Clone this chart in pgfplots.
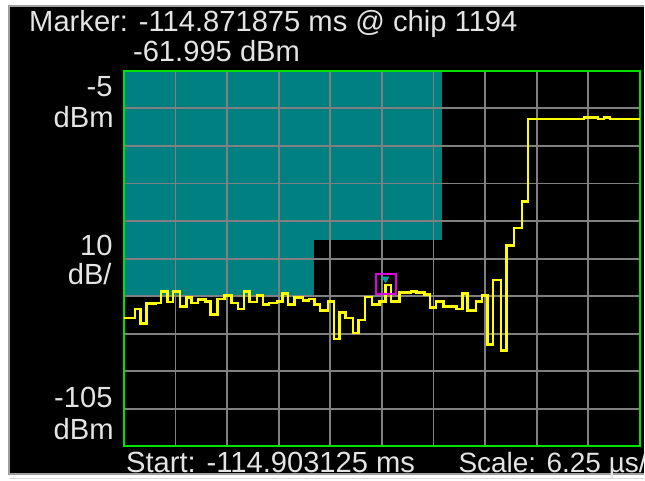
\documentclass[border=0pt]{standalone}
\usepackage{fontspec}
\setmainfont{Liberation Sans}
\usepackage{pgfplots}
\pgfplotsset{compat=1.18}
\definecolor{maskteal}{RGB}{0,128,128}
\definecolor{gridgray}{RGB}{128,128,128}
\definecolor{bordergreen}{RGB}{0,225,0}
\definecolor{traceyellow}{RGB}{255,255,0}
\definecolor{txt}{RGB}{228,228,228}
\definecolor{mkmag}{RGB}{225,0,225}
\definecolor{mkcyan}{RGB}{0,160,160}
\begin{document}
\begin{tikzpicture}
\begin{scope}[x=0.75pt,y=-0.75pt]
\useasboundingbox (0,0) rectangle (645,481);
\end{scope}
\begin{axis}[
  at={(93pt,-335.25pt)}, anchor=south west,
  scale only axis, width=387.75pt, height=282pt,
  xmin=0, xmax=10, ymin=-105, ymax=-5,
  xtick={0,1,...,10}, ytick={-105,-95,...,-5},
  xticklabels={}, yticklabels={}, major tick length=0pt,
  grid=major, grid style={gridgray, line width=1.4pt},
  axis line style={bordergreen, line width=1.5pt},
  set layers, clip=false,
]
\begin{pgfonlayer}{axis background}
\fill[white] (rel axis cs:-0.23985,1.18883) rectangle (rel axis cs:1.00774,-0.09043);
\fill[black] (rel axis cs:-0.22244,1.17287) rectangle (rel axis cs:1.00774,-0.07447);
\draw[gray!75, line width=1.5pt] (rel axis cs:1.00774,1.17287) -- (rel axis cs:-0.22244,1.17287)
  -- (rel axis cs:-0.22244,-0.07447) -- (rel axis cs:1.00774,-0.07447);
\draw[gray!30, line width=1pt] (rel axis cs:-0.22244,-0.0851) -- (rel axis cs:1.00774,-0.0851);
\end{pgfonlayer}
\addplot[fill=maskteal, draw=none, on layer=axis background] coordinates {
 (0,-5) (0,-65) (3.68,-65) (3.68,-50) (6.16,-50) (6.16,-5) (0,-5)};
\addplot[const plot, traceyellow, line width=1.9pt] coordinates {
(0,-70.8) (0.213,-68.4) (0.323,-72.3) (0.439,-67.0) (0.619,-66.8) (0.721,-63.8)
(0.845,-66.6) (0.954,-63.8) (1.089,-67.8) (1.213,-65.3) (1.315,-66.8) (1.437,-65.9)
(1.586,-66.4) (1.683,-69.9) (1.812,-65.7) (1.954,-64.8) (2.089,-66.8) (2.211,-68.4)
(2.327,-63.8) (2.437,-66.6) (2.578,-64.8) (2.694,-67.2) (2.810,-66.8) (2.965,-66.4)
(3.070,-64.3) (3.178,-67.2) (3.308,-65.3) (3.468,-66.1) (3.584,-65.7) (3.694,-67.2)
(3.805,-68.8) (3.952,-66.4) (4.068,-76.4) (4.178,-69.4) (4.294,-70.8) (4.439,-74.8)
(4.551,-71.4) (4.671,-65.2) (4.810,-67.2) (4.952,-66.4) (5.068,-62.0) (5.178,-66.4)
(5.338,-64.1) (5.565,-63.8) (5.673,-64.1) (5.822,-64.6) (5.932,-68.0) (6.048,-66.4)
(6.190,-67.7) (6.447,-68.4) (6.563,-64.3) (6.660,-68.8) (6.822,-66.4) (6.938,-64.8)
(7.046,-77.9) (7.151,-60.7) (7.305,-79.5) (7.414,-51.5) (7.563,-46.8) (7.712,-39.8)
(7.828,-17.8) (8.917,-17.4) (9.188,-17.8) (9.304,-17.4) (9.420,-17.8) (10,-17.8)};
\addplot[only marks, mark=square, mark size=7.5pt, mkmag, line width=1.5pt] coordinates {(5.07,-61.8)};
\addplot[only marks, mark=triangle*, mark size=3pt, mkcyan, mark options={rotate=180}] coordinates {(5.07,-60.4)};
\end{axis}
\begin{scope}[x=0.75pt,y=-0.75pt, every node/.style={inner sep=0pt, text=txt, font=\fontsize{21.9}{26}\selectfont}]
\node[anchor=base west] at (29,32) {Marker: -114.871875 ms @ chip 1194};
\node[anchor=base west] at (133,62) {-61.995 dBm};
\node[anchor=base east] at (113,97) {-5};
\node[anchor=base east] at (114,128) {dBm};
\node[anchor=base east] at (113,256) {10};
\node[anchor=base east] at (112,285) {dB/};
\node[anchor=base east] at (113,408) {-105};
\node[anchor=base east] at (114,440) {dBm};
\node[anchor=base west] at (126,473) {Start: -114.903125 ms};
\node[anchor=base west,overlay,font=\fontsize{21}{25}\selectfont] at (459,473) {Scale: 6.25 µs/};
\end{scope}
\end{tikzpicture}
\end{document}
